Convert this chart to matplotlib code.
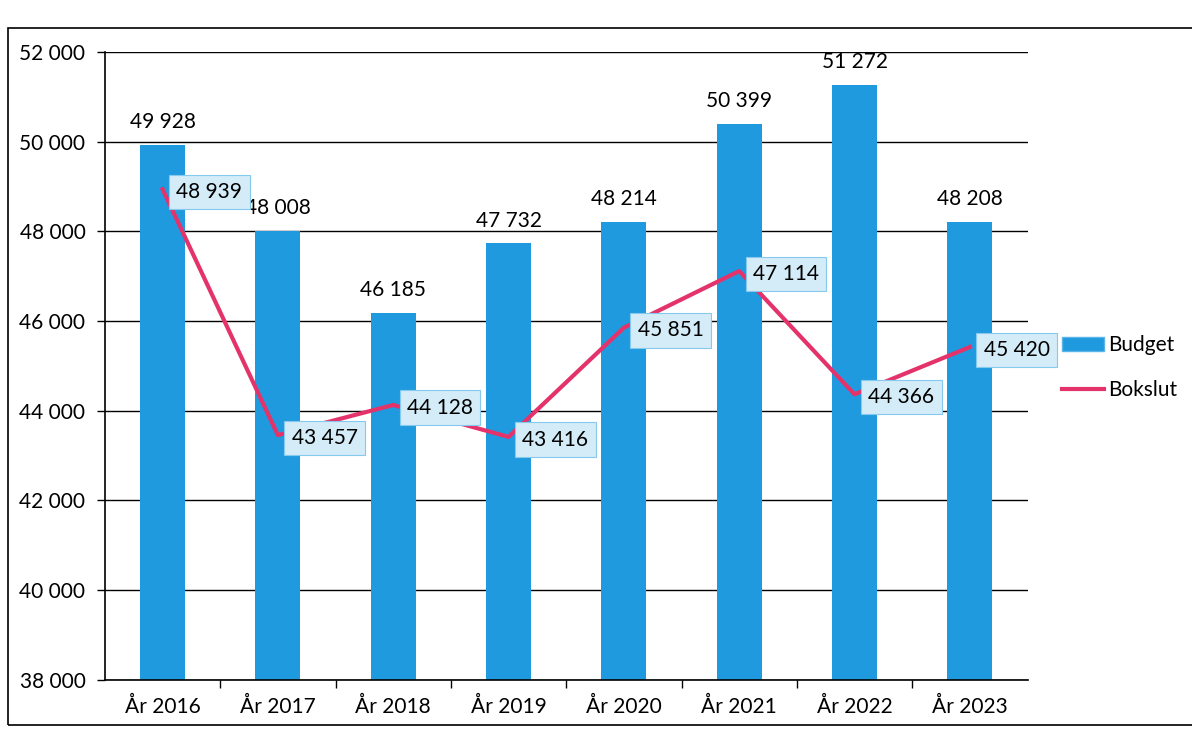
import numpy as np
import matplotlib
matplotlib.use('Agg')
import matplotlib.pyplot as plt
from matplotlib.ticker import FuncFormatter, FixedLocator
from matplotlib.patches import Rectangle, Patch
from matplotlib.lines import Line2D

years = ['År 2016', 'År 2017', 'År 2018', 'År 2019', 'År 2020', 'År 2021', 'År 2022', 'År 2023']
budget = [49928, 48008, 46185, 47732, 48214, 50399, 51272, 48208]
bokslut = [48939, 43457, 44128, 43416, 45851, 47114, 44366, 45420]

plt.rcParams['font.family'] = ['Lato', 'DejaVu Sans']
bar_col = '#1f9ade'
line_col = '#e4336a'
fs = 15

def fmt(v):
    return f'{int(v):,}'.replace(',', ' ')

fig = plt.figure(figsize=(11.92, 7.31), dpi=100)
ax = fig.add_axes([0.088, 0.070, 0.774, 0.859])

x = np.arange(len(years))
ax.bar(x, budget, width=0.39, color=bar_col, zorder=2)
ax.plot(x, bokslut, color=line_col, linewidth=3, zorder=3)

for i, v in enumerate(budget):
    ax.annotate(fmt(v), (x[i], v), xytext=(0, 9), textcoords='offset points',
                ha='center', va='bottom', fontsize=fs)
for i, v in enumerate(bokslut):
    ax.annotate(fmt(v), (x[i], v), xytext=(10, -2), textcoords='offset points',
                ha='left', va='center', fontsize=fs, zorder=4,
                bbox=dict(boxstyle='square,pad=0.35', facecolor='#d4ebf8',
                          edgecolor='#86c9ee', linewidth=0.8))

ax.set_ylim(38000, 52000)
ax.set_xlim(-0.5, len(years) - 0.5)
ax.set_yticks(np.arange(38000, 52001, 2000))
ax.yaxis.set_major_formatter(FuncFormatter(lambda v, p: fmt(v)))
ax.grid(axis='y', color='black', linewidth=1, zorder=1)
ax.set_axisbelow(True)

ax.set_xticks(x)
ax.set_xticklabels(years)
ax.xaxis.set_minor_locator(FixedLocator(np.arange(0.5, len(years) - 0.5, 1)))
ax.tick_params(axis='x', which='major', length=0, pad=12, labelsize=fs)
ax.tick_params(axis='x', which='minor', length=6, width=1, direction='out')
ax.tick_params(axis='y', length=6, width=1, direction='out', labelsize=fs, pad=8)

for s in ['top', 'right']:
    ax.spines[s].set_visible(False)
for s in ['left', 'bottom']:
    ax.spines[s].set_linewidth(1.2)

handles = [Patch(facecolor=bar_col, edgecolor='#5ab4e8'),
           Line2D([0], [0], color=line_col, linewidth=3)]
fig.legend(handles, ['Budget', 'Bokslut'], loc='center left',
           bbox_to_anchor=(0.891, 0.497), frameon=False, fontsize=fs,
           handlelength=2.0, handletextpad=0.2, labelspacing=1.2,
           borderaxespad=0, borderpad=0)

fig.patches.append(Rectangle((0.007, 0.008), 1.2, 0.954, transform=fig.transFigure,
                             fill=False, edgecolor='black', linewidth=1.2))

fig.savefig('out.png', dpi=100)
